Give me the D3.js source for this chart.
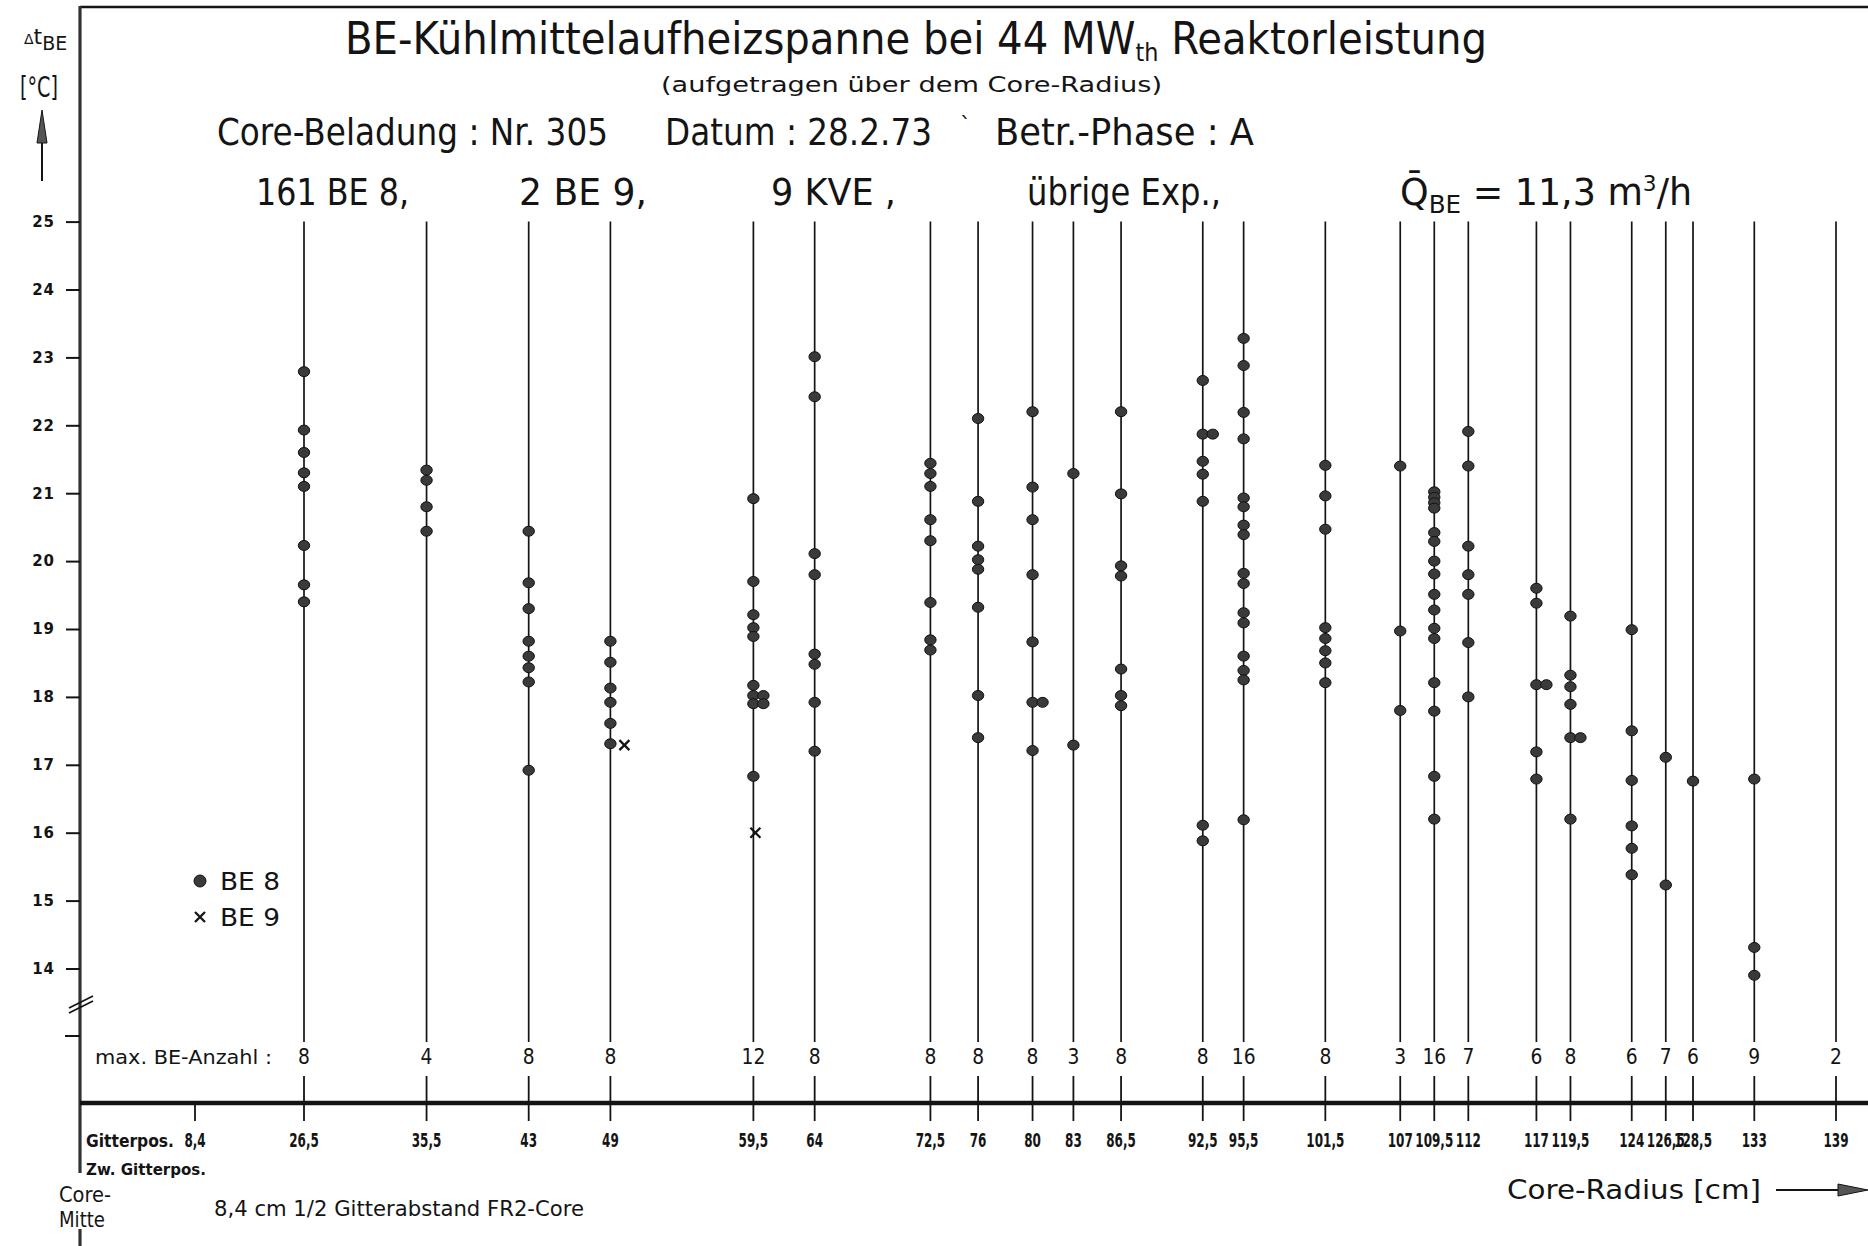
<!DOCTYPE html>
<html>
<head>
<meta charset="utf-8">
<script src="https://cdn.jsdelivr.net/npm/d3@7"></script>
<style>
  body { margin: 0; background: #fff; }
  svg { display: block; }
</style>
</head>
<body>
<svg id="chart" width="1868" height="1246"></svg>
<script>
// Core radius of each measuring line [cm]
const radii = [26.5, 35.5, 43, 49, 59.5, 64, 72.5, 76, 80, 83, 86.5, 92.5, 95.5, 101.5,
               107, 109.5, 112, 117, 119.5, 124, 126.5, 128.5, 133, 139];
const xTickLabels = ["26,5", "35,5", "43", "49", "59,5", "64", "72,5", "76", "80", "83", "86,5",
                     "92,5", "95,5", "101,5", "107", "109,5", "112", "117", "119,5", "124",
                     "126,5", "128,5", "133", "139"];
// max. BE-Anzahl per radius
const maxCount = [8, 4, 8, 8, 12, 8, 8, 8, 8, 3, 8, 8, 16, 8, 3, 16, 7, 6, 8, 6, 7, 6, 9, 2];

// Δt_BE [°C] of BE 8 elements, one list per radius
const be8Values = [
  [22.79, 21.93, 21.60, 21.30, 21.10, 20.23, 19.65, 19.40],
  [21.34, 21.19, 20.80, 20.44],
  [20.44, 19.68, 19.30, 18.82, 18.60, 18.43, 18.22, 16.92],
  [18.82, 18.51, 18.13, 17.92, 17.61, 17.31],
  [20.92, 19.70, 19.21, 19.02, 18.89, 18.17, 18.02, 17.90, 16.83],
  [23.01, 22.42, 20.11, 19.80, 18.63, 18.48, 17.92, 17.20],
  [21.44, 21.29, 21.10, 20.61, 20.30, 19.39, 18.84, 18.69],
  [22.10, 20.88, 20.22, 20.02, 19.88, 19.32, 18.02, 17.40],
  [22.20, 21.09, 20.61, 19.80, 18.81, 17.92, 17.21],
  [21.29, 17.29],
  [22.20, 20.99, 19.93, 19.78, 18.41, 18.02, 17.87],
  [22.66, 21.87, 21.47, 21.28, 20.88, 16.11, 15.88],
  [23.28, 22.88, 22.19, 21.80, 20.93, 20.80, 20.53, 20.39, 19.82, 19.67, 19.24, 19.09,
   18.60, 18.39, 18.25, 16.19],
  [21.41, 20.96, 20.47, 19.02, 18.86, 18.68, 18.50, 18.21],
  [21.40, 18.97, 17.80],
  [21.02, 20.94, 20.86, 20.78, 20.42, 20.29, 20.00, 19.81, 19.51, 19.28, 19.01, 18.86,
   18.21, 17.79, 16.83, 16.20],
  [21.91, 21.40, 20.22, 19.80, 19.51, 18.80, 18.00],
  [19.60, 19.38, 18.18, 17.19, 16.79],
  [19.19, 18.32, 18.15, 17.89, 17.40, 16.20],
  [18.99, 17.50, 16.77, 16.10, 15.77, 15.38],
  [17.11, 15.23],
  [16.76],
  [16.79, 14.31, 13.90],
  []
];
// BE 8 values with equal Δt that are drawn beside the line: [radius, Δt]
const be8Beside = [[59.5, 18.02], [59.5, 17.90], [80, 17.92], [92.5, 21.87], [117, 18.18], [119.5, 17.40]];
// BE 9 elements: [radius, Δt]
const be9OnLine = [[59.5, 16.00]];
const be9Beside = [[49, 17.29]];

const yTicks = [14, 15, 16, 17, 18, 19, 20, 21, 22, 23, 24, 25];

const FONT = "'DejaVu Sans', Verdana, sans-serif";
const INK = "#141414";
const svg = d3.select("#chart");

// scales: radius axis starts at the core centre; the span between 8,4 and 26,5 cm is shortened
const x = d3.scaleLinear().domain([0, 8.4, 26.5, 139]).range([80, 195, 304, 1836]);
const y = d3.scaleLinear().domain([14, 25]).range([968.5, 221.6]);

const axisY = 1103;         // radius axis
const lineBottom = 1042;    // lower end of the measuring lines
const countY = 1064;        // baseline of max. BE-Anzahl

function text(g, px, py, s, size, len, o = {}) {
  const t = g.append("text")
    .attr("x", px).attr("y", py)
    .attr("font-family", o.family || FONT)
    .attr("font-size", size)
    .attr("font-weight", o.weight || "normal")
    .attr("fill", INK)
    .text(s);
  if (len) t.attr("textLength", len).attr("lengthAdjust", "spacingAndGlyphs");
  if (o.anchor) t.attr("text-anchor", o.anchor);
  return t;
}

// ---------- frame ----------
svg.append("line").attr("x1", 80).attr("x2", 1868).attr("y1", 7).attr("y2", 7)
  .attr("stroke", INK).attr("stroke-width", 2.5);
svg.append("line").attr("x1", x(0)).attr("x2", x(0)).attr("y1", 6).attr("y2", 1173)
  .attr("stroke", "#333").attr("stroke-width", 3.2);
svg.append("line").attr("x1", x(0)).attr("x2", x(0)).attr("y1", 1229).attr("y2", 1246)
  .attr("stroke", "#333").attr("stroke-width", 3.2);

// ---------- header texts ----------
const head = svg.append("g");
{
  const t = text(head, 345, 54, "BE-Kühlmittelaufheizspanne bei 44 MW", 45, 1142);
  t.append("tspan").attr("dy", 7).attr("font-size", 25).text("th");
  t.append("tspan").attr("dy", -7).text(" Reaktorleistung");
}
text(head, 661, 92, "(aufgetragen über dem Core-Radius)", 22, 501);
text(head, 217, 145, "Core-Beladung : Nr. 305", 38, 391);
text(head, 665, 145, "Datum : 28.2.73", 38, 267);
text(head, 960, 132, "`", 22);
text(head, 995, 145, "Betr.-Phase : A", 38, 259);
text(head, 256, 205, "161 BE 8,", 37, 153);
text(head, 519, 205, "2 BE 9,", 37, 128);
text(head, 771, 205, "9 KVE ,", 37, 125);
text(head, 1027, 205, "übrige Exp.,", 37, 194);
{
  const t = text(head, 1400, 205, "Q̄", 37);
  t.append("tspan").attr("dy", 8).attr("font-size", 25).text("BE");
  t.append("tspan").attr("dy", -8).text("  =   11,3 m");
  t.append("tspan").attr("dy", -14).attr("font-size", 22).text("3");
  t.append("tspan").attr("dy", 14).text("/h");
  t.attr("textLength", 292).attr("lengthAdjust", "spacingAndGlyphs");
}

// y-axis title and arrow
{
  const t = text(head, 24, 44, "Δ", 14);
  t.append("tspan").attr("font-size", 22).text("t");
  t.append("tspan").attr("dy", 6).attr("font-size", 19).text("BE");
}
text(head, 20, 97, "[°C]", 29, 38);
svg.append("line").attr("x1", 42).attr("x2", 42).attr("y1", 181).attr("y2", 135)
  .attr("stroke", INK).attr("stroke-width", 2);
svg.append("path").attr("d", "M42,110 L47,143 L37,143 Z").attr("fill", "#555").attr("stroke", INK).attr("stroke-width", 1);

// ---------- value axis ----------
const yAxis = d3.axisLeft(y).tickValues(yTicks).tickSize(14).tickPadding(11).tickFormat(d3.format("d"));
const gy = svg.append("g").attr("transform", `translate(${x(0)},0)`).call(yAxis);
gy.select(".domain").remove();
gy.selectAll(".tick line").attr("stroke", INK).attr("stroke-width", 2);
gy.selectAll(".tick text").attr("font-family", FONT).attr("font-size", 15).attr("font-weight", "bold")
  .attr("fill", INK).attr("letter-spacing", 1);

// axis break below 14 and the tick under it
svg.append("line").attr("x1", 69).attr("y1", 1008).attr("x2", 93).attr("y2", 996).attr("stroke", INK).attr("stroke-width", 1.6);
svg.append("line").attr("x1", 69).attr("y1", 1013).attr("x2", 93).attr("y2", 1001).attr("stroke", INK).attr("stroke-width", 1.6);
svg.append("line").attr("x1", 65).attr("x2", 80).attr("y1", 1036).attr("y2", 1036).attr("stroke", INK).attr("stroke-width", 2);

// ---------- measuring lines ----------
svg.append("g").selectAll("line").data(radii).join("line")
  .attr("x1", d => x(d)).attr("x2", d => x(d))
  .attr("y1", y(25)).attr("y2", lineBottom)
  .attr("stroke", INK).attr("stroke-width", 1.7);

// ---------- BE 8 points ----------
const dotR = 5.3;
const pts = [];
radii.forEach((r, i) => be8Values[i].forEach(v => pts.push({ r, v, dx: 0 })));
be8Beside.forEach(([r, v]) => pts.push({ r, v, dx: 10 }));
svg.append("g").selectAll("ellipse").data(pts).join("ellipse")
  .attr("cx", d => x(d.r) + d.dx).attr("cy", d => y(d.v))
  .attr("rx", dotR + 0.4).attr("ry", dotR - 0.3)
  .attr("fill", "#3a3a3a").attr("stroke", "#111").attr("stroke-width", 1);

// ---------- BE 9 points ----------
const crosses = be9OnLine.map(([r, v]) => ({ r, v, dx: 2 }))
  .concat(be9Beside.map(([r, v]) => ({ r, v, dx: 14 })));
const cross = (cx, cy, s) => `M${cx - s},${cy - s}L${cx + s},${cy + s}M${cx - s},${cy + s}L${cx + s},${cy - s}`;
svg.append("g").selectAll("path").data(crosses).join("path")
  .attr("d", d => cross(x(d.r) + d.dx, y(d.v), 5))
  .attr("stroke", INK).attr("stroke-width", 2.3).attr("fill", "none");

// ---------- legend ----------
const leg = svg.append("g");
leg.append("circle").attr("cx", 200).attr("cy", 881).attr("r", 6).attr("fill", "#3a3a3a").attr("stroke", "#111");
text(leg, 220, 890, "BE 8", 25, 60);
leg.append("path").attr("d", cross(200, 917, 5)).attr("stroke", INK).attr("stroke-width", 2.3);
text(leg, 220, 926, "BE 9", 25, 60);

// ---------- max. BE-Anzahl ----------
text(svg, 95, countY, "max. BE-Anzahl :", 20, 177);
svg.append("g").selectAll("text").data(radii).join("text")
  .attr("transform", d => `translate(${x(d)},${countY}) scale(0.85,1)`)
  .attr("text-anchor", "middle").attr("font-family", FONT).attr("font-size", 22)
  .attr("fill", INK).text((d, i) => maxCount[i]);

// ---------- radius axis ----------
svg.append("line").attr("x1", x(0)).attr("x2", 1868).attr("y1", axisY).attr("y2", axisY)
  .attr("stroke", INK).attr("stroke-width", 4.5);
svg.append("g").selectAll("line").data(radii).join("line")
  .attr("x1", d => x(d)).attr("x2", d => x(d))
  .attr("y1", axisY - 27).attr("y2", axisY + 18)
  .attr("stroke", INK).attr("stroke-width", 1.8);
svg.append("line").attr("x1", x(8.4)).attr("x2", x(8.4)).attr("y1", axisY).attr("y2", axisY + 18)
  .attr("stroke", INK).attr("stroke-width", 1.8);

svg.append("g").selectAll("text").data(radii).join("text")
  .attr("transform", d => `translate(${x(d)},${axisY + 44}) scale(0.6,1)`)
  .attr("text-anchor", "middle").attr("font-family", FONT).attr("font-size", 20).attr("font-weight", "bold")
  .attr("fill", INK).text((d, i) => xTickLabels[i]);

text(svg, 86, axisY + 44, "Gitterpos.", 17, 88, { weight: "bold" });
svg.append("text").attr("transform", `translate(${x(8.4)},${axisY + 44}) scale(0.6,1)`)
  .attr("text-anchor", "middle").attr("font-family", FONT).attr("font-size", 20).attr("font-weight", "bold")
  .attr("fill", INK).text("8,4");
text(svg, 86, axisY + 72, "Zw. Gitterpos.", 16, 120, { weight: "bold" });

text(svg, 59, 1202, "Core-", 21, 52);
text(svg, 59, 1227, "Mitte", 21, 46);
text(svg, 214, 1216, "8,4 cm  1/2 Gitterabstand FR2-Core", 21, 370);

text(svg, 1507, 1199, "Core-Radius  [cm]", 27, 254);
svg.append("line").attr("x1", 1776).attr("x2", 1845).attr("y1", 1190).attr("y2", 1190)
  .attr("stroke", INK).attr("stroke-width", 2);
svg.append("path").attr("d", "M1868,1190 L1838,1184 L1838,1196 Z").attr("fill", "#555").attr("stroke", INK).attr("stroke-width", 1);
</script>
</body>
</html>
